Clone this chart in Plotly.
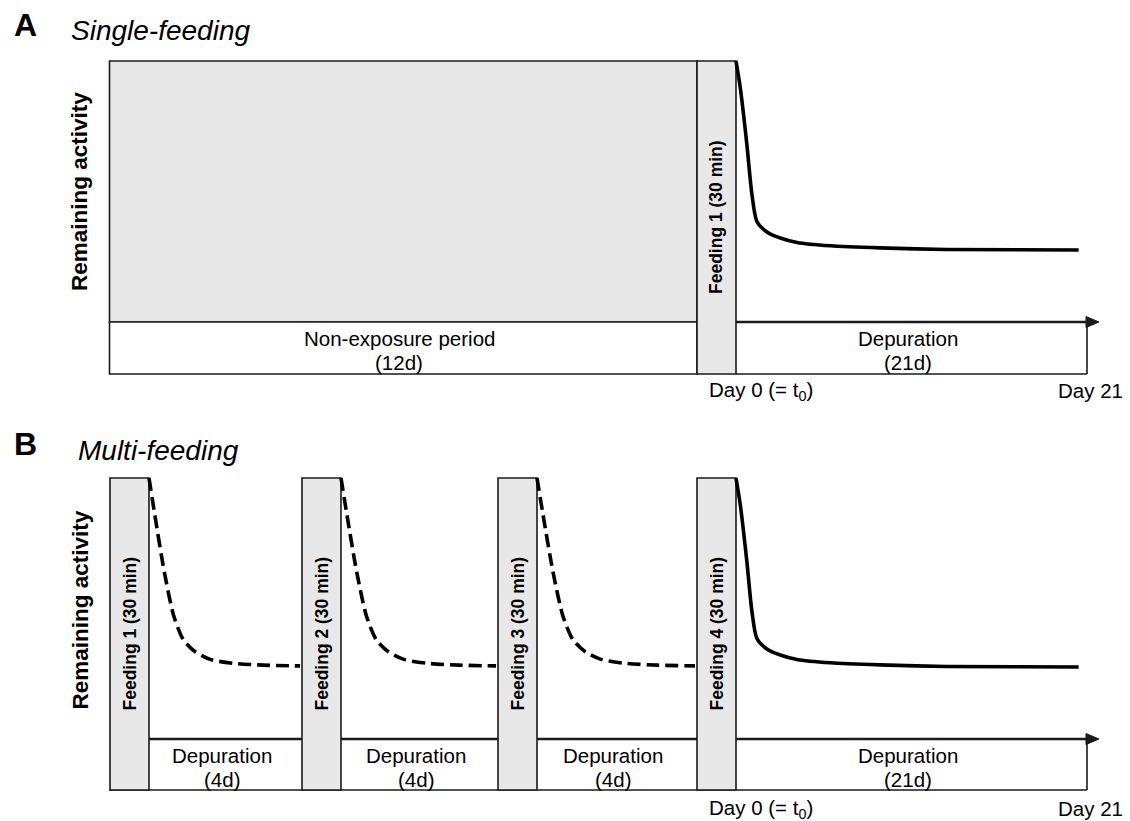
import plotly.graph_objects as go

# ---------------- data ----------------
panel_letters = ["A", "B"]
panel_titles = ["Single-feeding", "Multi-feeding"]
y_title = "Remaining activity"
feeding_labels_A = ["Feeding 1 (30 min)"]
feeding_labels_B = ["Feeding 1 (30 min)", "Feeding 2 (30 min)", "Feeding 3 (30 min)", "Feeding 4 (30 min)"]
period_names_A = ["Non-exposure period", "Depuration"]
period_days_A = [12, 21]
period_names_B = ["Depuration", "Depuration", "Depuration", "Depuration"]
period_days_B = [4, 4, 4, 21]
day_labels = ["Day 0 (= t<sub>0</sub>)", "Day 21"]

# remaining activity (fraction of initial) vs. days after the last feeding (solid)
final_days = [0, 0.25, 0.65, 0.95, 1.25, 1.85, 2.65, 3.65, 5.65, 8.6, 12.6, 20.5]
final_activity = [1.0, 0.90, 0.68, 0.49, 0.385, 0.345, 0.322, 0.305, 0.292, 0.284, 0.278, 0.276]
# remaining activity between feedings (dashed)
inter_days = [0, 0.15, 0.4, 0.65, 0.9, 1.2, 1.6, 2.2, 3.0, 3.95]
inter_activity = [1.0, 0.86, 0.64, 0.47, 0.38, 0.335, 0.305, 0.29, 0.283, 0.28]

# ---------------- layout geometry (pixels) ----------------
W, H = 1130, 821
FONT = "Liberation Sans, Arial, sans-serif"
INK = "#1a1a1a"
GRAY = "#e8e8e8"
SCALE = 261.0                 # px per unit of activity
A_BASE, B_BASE = 322.0, 739.0 # px of activity = 0
A_BOX, B_BOX = -52 / SCALE, -51 / SCALE
X_LEFT, X_RIGHT, X_ARROW = 109.5, 1087.0, 1099.0
FEED_W = 39.0
feed_x_A = [697.0]
feed_x_B = [110.0, 302.0, 498.0, 697.0]
seg_A = [(109.5, 697.0), (736.0, 1087.0)]
seg_B = [(149.0, 302.0), (341.0, 498.0), (537.0, 697.0), (736.0, 1087.0)]


def yrange(base):
    return [(base - H) / SCALE, base / SCALE]


fig = go.Figure()

# ---- curves ----
def add_curve(seg, days_total, days, act, yaxis, dash):
    x0, x1 = seg
    k = (x1 - x0) / days_total
    fig.add_trace(go.Scatter(
        x=[x0 + d * k for d in days], y=act, mode="lines", yaxis=yaxis,
        line=dict(color="black", width=3.6, dash=dash, shape="spline", smoothing=0.7),
        hoverinfo="skip", showlegend=False))

add_curve(seg_A[1], period_days_A[1], final_days, final_activity, "y", "solid")
for i in range(3):
    add_curve(seg_B[i], period_days_B[i], inter_days, inter_activity, "y2", "13px,6px")
add_curve(seg_B[3], period_days_B[3], final_days, final_activity, "y2", "solid")

shapes = []
LW = 1.6


def rect(x0, x1, y0, y1, yref, fill):
    shapes.append(dict(type="rect", xref="x", yref=yref, x0=x0, x1=x1, y0=y0, y1=y1,
                       fillcolor=fill, line=dict(color=INK, width=LW), layer="below"))


def line(x0, y0, x1, y1, yref, w=LW):
    shapes.append(dict(type="line", xref="x", yref=yref, x0=x0, y0=y0, x1=x1, y1=y1,
                       line=dict(color=INK, width=w), layer="below"))


def arrow(yref):
    h = 5.5 / SCALE
    shapes.append(dict(type="path", xref="x", yref=yref,
                       path=f"M {X_RIGHT - 1} {h} L {X_ARROW} 0 L {X_RIGHT - 1} {-h} Z",
                       fillcolor=INK, line=dict(color=INK, width=1), layer="below"))

# panel A
rect(X_LEFT, feed_x_A[0], 0, 1, "y", GRAY)
rect(X_LEFT, feed_x_A[0], A_BOX, 0, "y", "white")
line(seg_A[1][0], A_BOX, X_RIGHT, A_BOX, "y")
line(X_RIGHT, A_BOX, X_RIGHT, 0, "y")
line(seg_A[1][0], 0, X_RIGHT + 2, 0, "y", 2.4)
arrow("y")
for fx in feed_x_A:
    rect(fx, fx + FEED_W, A_BOX, 1, "y", GRAY)

# panel B
line(X_LEFT, B_BOX, X_RIGHT, B_BOX, "y2")
line(X_RIGHT, B_BOX, X_RIGHT, 0, "y2")
line(seg_B[0][0], 0, X_RIGHT + 2, 0, "y2", 2.4)
arrow("y2")
for fx in feed_x_B:
    rect(fx, fx + FEED_W, B_BOX, 1, "y2", GRAY)

# ---- text ----
ann = []


def text(x, ypx, s, size, bold=False, italic=False, angle=0, xanchor="center"):
    ann.append(dict(x=x / W, y=1 - ypx / H, xref="paper", yref="paper", text=s,
                    showarrow=False, textangle=angle, xanchor=xanchor, yanchor="middle",
                    font=dict(family=FONT, size=size, color="black",
                              weight="bold" if bold else "normal",
                              style="italic" if italic else "normal")))

# panel letters and titles
text(25, 25, panel_letters[0], 32, bold=True)
text(69, 30, panel_titles[0], 28, italic=True, xanchor="left")
text(25, 444, panel_letters[1], 32, bold=True)
text(76, 450, panel_titles[1], 28, italic=True, xanchor="left")

# y titles
text(79.5, 191.5, y_title, 22.5, bold=True, angle=-90)
text(79.5, 610, y_title, 22.5, bold=True, angle=-90)

# feeding labels
for fx, lab in zip(feed_x_A, feeding_labels_A):
    text(fx + FEED_W / 2, (61 + 374) / 2, lab, 17.5, bold=True, angle=-90)
for fx, lab in zip(feed_x_B, feeding_labels_B):
    text(fx + FEED_W / 2, (478 + 790) / 2, lab, 17.5, bold=True, angle=-90)

# period labels
for (x0, x1), name, d in zip(seg_A, period_names_A, period_days_A):
    xc = (x0 + x1) / 2 - 4
    text(xc, 338, name, 20.5)
    text(xc, 362, f"({d}d)", 20.5)
for (x0, x1), name, d in zip(seg_B, period_names_B, period_days_B):
    xc = (x0 + x1) / 2 - 4
    text(xc, 755, name, 20.5)
    text(xc, 779, f"({d}d)", 20.5)

# day labels
text(761, 391, day_labels[0], 20.5)
text(1090, 390, day_labels[1], 20.5)
text(761, 809, day_labels[0], 20.5)
text(1090, 808, day_labels[1], 20.5)

fig.update_layout(
    width=W, height=H, margin=dict(l=0, r=0, t=0, b=0),
    paper_bgcolor="white", plot_bgcolor="white",
    xaxis=dict(range=[0, W], visible=False, fixedrange=True),
    yaxis=dict(range=yrange(A_BASE), visible=False, fixedrange=True),
    yaxis2=dict(range=yrange(B_BASE), visible=False, overlaying="y", fixedrange=True),
    shapes=shapes, annotations=ann, showlegend=False,
)

fig.write_html("out.html", config={"displayModeBar": False},
               post_script="document.body.style.margin='0';")
